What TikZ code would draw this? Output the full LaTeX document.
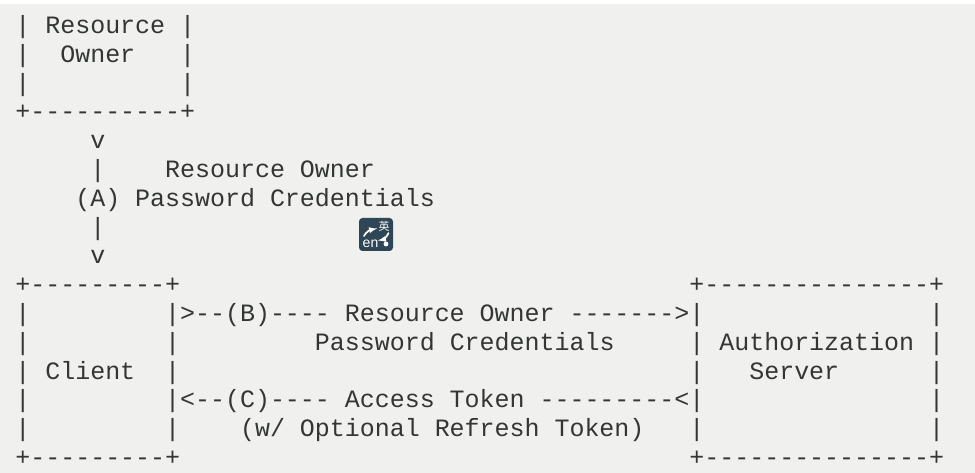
\documentclass[tikz,border=0pt]{standalone}
\usepackage{fontspec}
\newfontfamily\asciifont{Liberation Mono}
\newfontfamily\cjkfont{Noto Sans CJK SC}
\newfontfamily\iconfont{Liberation Sans}
\definecolor{paper}{HTML}{F0F1EE}
\definecolor{ink}{HTML}{333634}
\definecolor{icondark}{HTML}{2F4656}
\tikzset{
  rowline/.style={anchor=base west,inner sep=0pt,outer sep=0pt,text=ink,font=\asciifont\fontsize{24.96}{25}\selectfont},
  iconbox/.style={fill=icondark,rounded corners=3.5pt},
  iconmark/.style={draw=white,line width=1.7pt,line cap=round},
  icontext/.style={inner sep=0pt,text=white}
}
\begin{document}
\begin{tikzpicture}[x=1pt,y=-1pt]
\useasboundingbox (0,0) rectangle (975,473);
\fill[white] (0,0) rectangle (975,473);
\fill[paper] (0,4) rectangle (975,473);
\node[rowline] (r0) at (15.4,33.5) {|~Resource~|};
\node[rowline] (r1) at (15.4,62.3) {|~~Owner~~~|};
\node[rowline] (r2) at (15.4,91.1) {|~~~~~~~~~~|};
\node[rowline] (r3) at (15.4,119.9) {+----------+};
\node[rowline] (r4) at (15.4,148.7) {~~~~~v};
\node[rowline] (r5) at (15.4,177.5) {~~~~~|~~~~Resource~Owner};
\node[rowline] (r6) at (15.4,206.3) {~~~~(A)~Password~Credentials};
\node[rowline] (r7) at (15.4,235.1) {~~~~~|};
\node[rowline] (r8) at (15.4,263.9) {~~~~~v};
\node[rowline] (r9) at (15.4,292.7) {+---------+~~~~~~~~~~~~~~~~~~~~~~~~~~~~~~~~~~+---------------+};
\node[rowline] (r10) at (15.4,321.5) {|~~~~~~~~~|>--(B)----~Resource~Owner~------->|~~~~~~~~~~~~~~~|};
\node[rowline] (r11) at (15.4,350.3) {|~~~~~~~~~|~~~~~~~~~Password~Credentials~~~~~|~Authorization~|};
\node[rowline] (r12) at (15.4,379.1) {|~Client~~|~~~~~~~~~~~~~~~~~~~~~~~~~~~~~~~~~~|~~~Server~~~~~~|};
\node[rowline] (r13) at (15.4,407.9) {|~~~~~~~~~|<--(C)----~Access~Token~---------<|~~~~~~~~~~~~~~~|};
\node[rowline] (r14) at (15.4,436.7) {|~~~~~~~~~|~~~~(w/~Optional~Refresh~Token)~~~|~~~~~~~~~~~~~~~|};
\node[rowline] (r15) at (15.4,465.5) {+---------+~~~~~~~~~~~~~~~~~~~~~~~~~~~~~~~~~~+---------------+};
% input-method icon
\fill[iconbox] (359,218) rectangle (393,251);
\node[icontext,font=\iconfont\fontsize{14}{14}\selectfont] (iconen) at (370.5,243.5) {en};
\node[icontext,font=\cjkfont\fontsize{11}{11}\selectfont] (iconzh) at (384,226.5) {英};
\fill[white] (386,244) circle (2.4pt);
\draw[iconmark,-latex] (364,236) .. controls (366,232) and (370,230) .. (377,228.5);
\draw[iconmark,-latex] (388.5,233) .. controls (387,237) and (383,239.5) .. (378,240.5);
\end{tikzpicture}
\end{document}
